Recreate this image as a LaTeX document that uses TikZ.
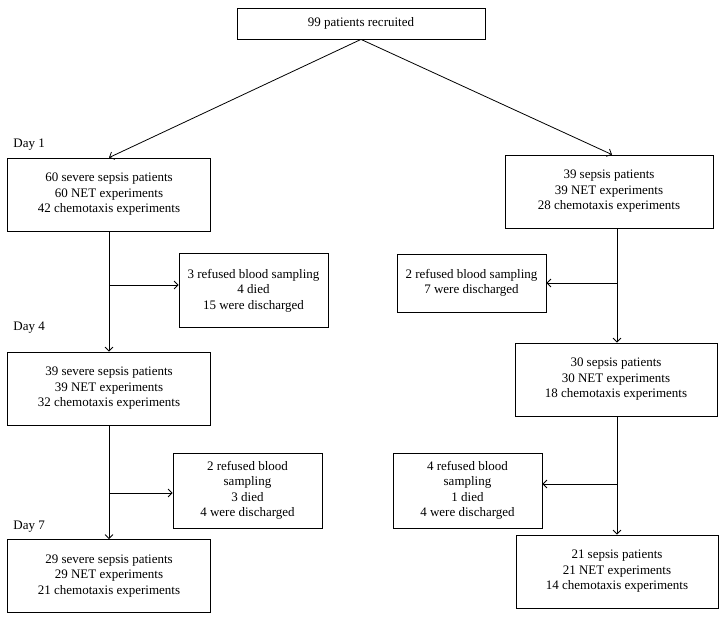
\documentclass[tikz,border=0pt]{standalone}
\usepackage{fontspec}
\setmainfont{Liberation Serif}
\usetikzlibrary{arrows,arrows.meta}

\begin{document}
\begin{tikzpicture}[x=1pt,y=-1pt,>={Straight Barb[length=4pt,width=8pt]},line width=0.8pt,
        box/.style={draw,align=center,inner sep=0pt,minimum height=73pt,
                    font=\fontsize{13}{15.5}\selectfont},
        drop/.style={box,minimum width=149pt},
        day/.style={anchor=west,inner sep=0pt,font=\fontsize{13}{15.5}\selectfont}]
            \useasboundingbox (0,0) rectangle (725,622);

            % recruited
            \node[box, minimum width=248pt, minimum height=31pt] (rec) at (361,23.5) {99 patients recruited};

            % severe sepsis side
            \node[day]                          (d1)  at (13,145)    {Day 1};
            \node[box, minimum width=203pt]     (sev1) at (109,194.5) {60 severe sepsis patients\\60 NET experiments\\42 chemotaxis experiments};
            \node[drop, minimum height=74pt]    (sevx1) at (253.5,290.5) {3 refused blood sampling\\4 died\\15 were discharged};
            \node[day]                          (d4)  at (13,328)    {Day 4};
            \node[box, minimum width=203pt]     (sev2) at (109,388.5) {39 severe sepsis patients\\39 NET experiments\\32 chemotaxis experiments};
            \node[drop, minimum height=75pt]    (sevx2) at (247.5,490.5) {2 refused blood\\sampling\\3 died\\4 were discharged};
            \node[day]                          (d7)  at (13,527)    {Day 7};
            \node[box, minimum width=203pt]     (sev3) at (109,576)   {29 severe sepsis patients\\29 NET experiments\\21 chemotaxis experiments};

            % sepsis side
            \node[box, minimum width=208pt]     (sep1) at (609,191.5) {39 sepsis patients\\39 NET experiments\\28 chemotaxis experiments};
            \node[drop, minimum height=58pt]    (sepx1) at (471.5,283) {2 refused blood sampling\\7 were discharged};
            \node[box, minimum width=202pt]     (sep2) at (616,379.5) {30 sepsis patients\\30 NET experiments\\18 chemotaxis experiments};
            \node[drop, minimum height=75pt]    (sepx2) at (467.5,490.5) {4 refused blood\\sampling\\1 died\\4 were discharged};
            \node[box, minimum width=202pt]     (sep3) at (617,571.5) {21 sepsis patients\\21 NET experiments\\14 chemotaxis experiments};

            % branch points
            \coordinate (lb1) at (109,285);
            \coordinate (lb2) at (109,493);
            \coordinate (rb1) at (617,283);
            \coordinate (rb2) at (617,484);

            \path[->]
                (rec.south) edge (sev1.north)
                            edge ([xshift=3pt]sep1.north)
                (sev1.south) edge (sev2.north)
                (sev2.south) edge (sev3.north)
                (lb1) edge (lb1 -| sevx1.west)
                (lb2) edge (lb2 -| sevx2.west)
                (sep1.south -| rb1) edge (sep2.north -| rb1)
                (sep2.south -| rb1) edge (sep3.north)
                (rb1) edge (rb1 -| sepx1.east)
                (rb2) edge (rb2 -| sepx2.east);
        \end{tikzpicture}
\end{document}
